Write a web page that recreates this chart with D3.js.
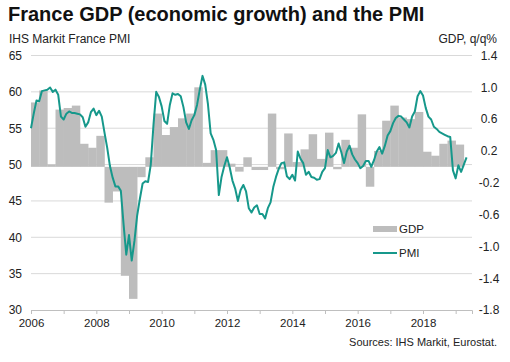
<!DOCTYPE html>
<html>
<head>
<meta charset="utf-8">
<script src="https://cdn.jsdelivr.net/npm/d3@7"></script>
<style>
  body { margin: 0; background: #fff; }
  svg { display: block; font-family: Arial, "Liberation Sans", sans-serif; }
</style>
</head>
<body>
<div id="chart"></div>
<script>
// quarterly GDP q/q %, 2006 Q1 .. 2019 Q1
const gdp = [
  0.81, 0.96, 0.03, 0.72,
  0.74, 0.77, 0.29, 0.24,
  0.39, -0.45, -0.31, -1.37,
  -1.66, -0.13, 0.12, 0.67,
  0.40, 0.50, 0.61, 0.67,
  1.00, 0.05, 0.21, 0.21,
  0.04, -0.06, 0.12, -0.04,
  -0.04, 0.67, -0.03, 0.42,
  0.06, 0.22, 0.41, 0.10,
  0.43, -0.03, 0.34, 0.24,
  0.66, -0.25, 0.20, 0.58,
  0.77, 0.62, 0.60, 0.69,
  0.19, 0.14, 0.29, 0.33,
  0.28
];

// monthly PMI, Jan 2006 .. May 2019
const pmi2006 = [55.0, 57.0, 58.8, 58.7, 60.1, 60.2, 60.3, 60.6, 60.0, 60.3, 59.6, 56.6];
const pmi2007 = [56.2, 57.0, 57.3, 57.1, 57.1, 57.0, 56.9, 56.5, 55.2, 55.8, 57.2, 57.7];
const pmi2008 = [56.8, 57.4, 56.6, 54.4, 52.3, 49.8, 48.2, 47.0, 47.0, 46.4, 41.8, 37.6];
const pmi2009 = [40.3, 36.8, 39.5, 43.0, 45.3, 47.4, 47.7, 47.6, 50.0, 55.5, 60.0, 59.3];
const pmi2010 = [58.0, 56.0, 55.6, 58.2, 59.8, 59.6, 59.7, 59.4, 57.9, 55.8, 54.9, 56.1];
const pmi2011 = [56.8, 58.2, 60.3, 62.2, 61.0, 58.3, 54.3, 53.4, 52.0, 45.8, 48.3, 49.8];
const pmi2012 = [51.0, 49.6, 47.8, 46.7, 45.0, 46.5, 47.2, 46.3, 44.0, 43.4, 44.1, 44.4];
const pmi2013 = [43.2, 43.2, 42.6, 44.0, 44.8, 46.9, 48.3, 49.4, 50.2, 50.3, 48.4, 48.0];
const pmi2014 = [48.6, 47.8, 51.8, 50.8, 50.2, 48.6, 49.0, 48.3, 48.2, 47.9, 48.0, 49.0];
const pmi2015 = [49.5, 52.0, 51.0, 51.2, 51.6, 52.9, 51.7, 50.2, 51.8, 52.6, 51.4, 50.7];
const pmi2016 = [50.2, 49.5, 49.8, 50.5, 50.5, 49.7, 50.6, 51.8, 52.4, 51.5, 52.6, 54.0];
const pmi2017 = [54.6, 55.7, 56.4, 56.7, 56.6, 56.2, 55.8, 55.1, 56.6, 57.3, 59.4, 60.1];
const pmi2018 = [59.5, 57.8, 56.6, 56.2, 55.2, 54.9, 54.5, 54.3, 54.1, 53.9, 53.8, 49.2];
const pmi2019 = [48.1, 49.9, 49.0, 50.0, 51.0];

const startYear = 2006;
const yearTicks = d3.range(2006, 2020);
const pmiTicks = [30, 35, 40, 45, 50, 55, 60, 65];
const gdpTicks = [-1.8, -1.4, -1.0, -0.6, -0.2, 0.2, 0.6, 1.0, 1.4];

const pmi = [].concat(pmi2006, pmi2007, pmi2008, pmi2009, pmi2010, pmi2011, pmi2012,
                      pmi2013, pmi2014, pmi2015, pmi2016, pmi2017, pmi2018, pmi2019);

const width = 510;
const height = 362;
const plotLeft = 31, plotRight = 472, plotTop = 55.5, plotBottom = 310;
const barColor = "#bdbdbd";
const lineColor = "#16988b";
const gridColor = "#d9d9d9";

const xScale = d3.scaleLinear().domain([2006, 2019.5]).range([plotLeft, plotRight]);
const yPmi = d3.scaleLinear().domain([30, 65]).range([plotBottom, plotTop]);
const yGdp = d3.scaleLinear().domain([-1.8, 1.4]).range([plotBottom, plotTop]);

const svg = d3.select("#chart")
  .append("svg")
  .attr("width", width)
  .attr("height", height);

// gridlines (left axis)
svg.append("g")
  .selectAll("line")
  .data(pmiTicks.slice(1))
  .enter()
  .append("line")
  .attr("x1", plotLeft).attr("x2", plotRight)
  .attr("y1", d => yPmi(d)).attr("y2", d => yPmi(d))
  .attr("stroke", gridColor)
  .attr("stroke-width", 1);

// GDP bars
svg.append("g")
  .selectAll("rect")
  .data(gdp)
  .enter()
  .append("rect")
  .attr("x", (d, i) => xScale(startYear + i / 4))
  .attr("width", (d, i) => xScale(startYear + (i + 1) / 4) - xScale(startYear + i / 4) + 0.3)
  .attr("y", d => yGdp(Math.max(0, d)))
  .attr("height", d => Math.abs(yGdp(d) - yGdp(0)))
  .attr("fill", barColor);

// PMI line
const line = d3.line()
  .x((d, i) => xScale(startYear + i / 12))
  .y(d => yPmi(d));

svg.append("path")
  .datum(pmi)
  .attr("d", line)
  .attr("fill", "none")
  .attr("stroke", lineColor)
  .attr("stroke-width", 2)
  .attr("stroke-linejoin", "round");

// x axis
const xAxis = d3.axisBottom(xScale)
  .tickValues(yearTicks)
  .tickSize(4)
  .tickPadding(5)
  .tickFormat(d => (d % 2 === 0 ? d : ""));

const gx = svg.append("g")
  .attr("transform", "translate(0," + plotBottom + ")")
  .call(xAxis);
gx.select(".domain").attr("stroke", "#bfbfbf");
gx.selectAll(".tick line").attr("stroke", "#bfbfbf");
gx.selectAll("text").attr("font-size", "11.5px").attr("fill", "#222");

// left axis
const gl = svg.append("g")
  .attr("transform", "translate(22,0)")
  .call(d3.axisLeft(yPmi).tickValues(pmiTicks).tickSize(0).tickPadding(0));
gl.select(".domain").remove();
gl.selectAll("text").attr("font-size", "12px").attr("fill", "#222");

// right axis
const gr = svg.append("g")
  .attr("transform", "translate(489,0)")
  .call(d3.axisRight(yGdp).tickValues(gdpTicks).tickSize(0).tickPadding(0)
          .tickFormat(d => d.toFixed(1)));
gr.select(".domain").remove();
gr.selectAll("text")
  .attr("text-anchor", "middle")
  .attr("font-size", "12px")
  .attr("fill", "#222");

// titles
svg.append("text")
  .attr("x", 8).attr("y", 21)
  .attr("font-size", "20px")
  .attr("font-weight", "bold")
  .attr("fill", "#111")
  .text("France GDP (economic growth) and the PMI");

svg.append("text")
  .attr("x", 9).attr("y", 43)
  .attr("font-size", "12px")
  .attr("fill", "#222")
  .text("IHS Markit  France PMI");

svg.append("text")
  .attr("x", 497).attr("y", 43)
  .attr("text-anchor", "end")
  .attr("font-size", "12px")
  .attr("fill", "#222")
  .text("GDP, q/q%");

svg.append("text")
  .attr("x", 497).attr("y", 346)
  .attr("text-anchor", "end")
  .attr("font-size", "11px")
  .attr("fill", "#222")
  .text("Sources: IHS Markit, Eurostat.");

// legend
const legendX = 373;
svg.append("rect")
  .attr("x", legendX).attr("y", 226)
  .attr("width", 24).attr("height", 6)
  .attr("fill", barColor);
svg.append("text")
  .attr("x", legendX + 26).attr("y", 233)
  .attr("font-size", "11.5px").attr("fill", "#222")
  .text("GDP");
svg.append("line")
  .attr("x1", legendX).attr("x2", legendX + 24)
  .attr("y1", 253).attr("y2", 253)
  .attr("stroke", lineColor).attr("stroke-width", 2);
svg.append("text")
  .attr("x", legendX + 26).attr("y", 257)
  .attr("font-size", "11.5px").attr("fill", "#222")
  .text("PMI");
</script>
</body>
</html>
